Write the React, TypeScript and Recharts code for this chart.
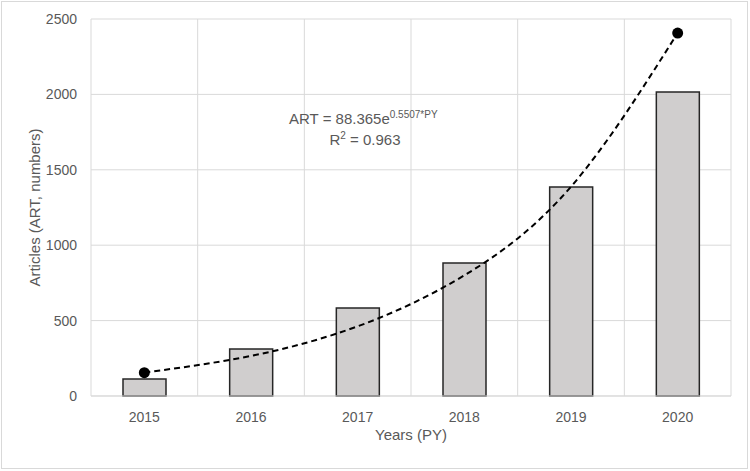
import { ComposedChart, Bar, Line, XAxis, YAxis, CartesianGrid, Label } from "recharts";

const years = ["2015", "2016", "2017", "2018", "2019", "2020"];
const articles = [113, 312, 583, 882, 1386, 2016];
// fitted exponential trend at each year
const trend = [155, 266, 462, 800, 1388, 2407];
const yTicks = [0, 500, 1000, 1500, 2000, 2500];

const data = years.map((y, i) => ({ year: y, art: articles[i], trend: trend[i] }));

const FONT = "'Liberation Sans', Arial, sans-serif";
const GRAY = "#595959";

function EndDot(props: any) {
  const { cx, cy, index } = props;
  if (index !== 0 && index !== years.length - 1) return null;
  return <circle key={index} cx={cx} cy={cy} r={5.5} fill="#000" />;
}

export default function App() {
  return (
    <div style={{ position: "absolute", left: 0, top: 0, width: 750, height: 471, background: "#fff", fontFamily: FONT }}>
      <div
        style={{
          position: "absolute", left: 1, top: 1, width: 747, height: 468,
          border: "1px solid #d9d9d9", boxSizing: "border-box",
        }}
      />
      <ComposedChart
        width={750}
        height={471}
        data={data}
        margin={{ top: 19, right: 19, bottom: 35, left: 31 }}
        barCategoryGap={0}
      >
        <CartesianGrid
          stroke="#d9d9d9"
          strokeWidth={1}
          verticalCoordinatesGenerator={({ offset }: any) =>
            Array.from({ length: years.length + 1 }, (_, i) => offset.left + (offset.width * i) / years.length)
          }
        />
        <XAxis
          dataKey="year"
          height={40}
          axisLine={{ stroke: "#d9d9d9" }}
          tickLine={false}
          tick={{ fill: GRAY, fontSize: 14, fontFamily: FONT }}
          tickMargin={10}
        >
          <Label value="Years (PY)" position="insideBottom" offset={0} dy={4} fill={GRAY} fontSize={15} fontFamily={FONT} />
        </XAxis>
        <YAxis
          width={60}
          domain={[0, 2500]}
          ticks={yTicks}
          axisLine={false}
          tickLine={false}
          tick={{ fill: GRAY, fontSize: 14, fontFamily: FONT }}
          tickMargin={8}
        >
          <Label
            value="Articles (ART, numbers)"
            angle={-90}
            position="insideLeft"
            offset={0}
            dx={4}
            style={{ textAnchor: "middle" }}
            fill={GRAY}
            fontSize={15}
            fontFamily={FONT}
          />
        </YAxis>
        <Bar dataKey="art" fill="#d0cece" stroke="#262626" strokeWidth={1.5} barSize={43} isAnimationActive={false} />
        <Line
          dataKey="trend"
          type="natural"
          stroke="#000"
          strokeWidth={2}
          strokeDasharray="6 4"
          dot={<EndDot />}
          activeDot={false}
          isAnimationActive={false}
        />
      </ComposedChart>
      <div style={{ position: "absolute", left: 289, top: 108, fontSize: 15, color: GRAY, lineHeight: "21px", textAlign: "center", width: 152 }}>
        <div style={{ whiteSpace: "nowrap", textAlign: "left" }}>
          ART = 88.365e<sup style={{ fontSize: 10, verticalAlign: "6px", lineHeight: 0 }}>0.5507*PY</sup>
        </div>
        <div style={{ whiteSpace: "nowrap" }}>
          R<sup style={{ fontSize: 10, verticalAlign: "6px", lineHeight: 0 }}>2</sup> = 0.963
        </div>
      </div>
    </div>
  );
}
